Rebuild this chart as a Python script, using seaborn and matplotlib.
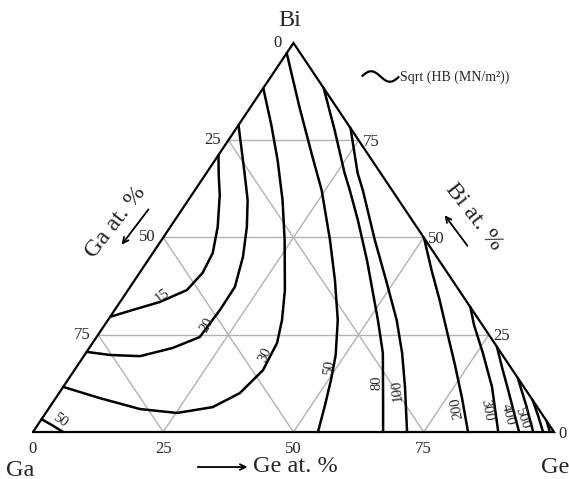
import numpy as np
import pandas as pd
import seaborn as sns
import matplotlib.pyplot as plt
from matplotlib.lines import Line2D
from matplotlib.path import Path

# contour lines of sqrt(HB) as (Ge at.%, Bi at.%)
ge_15 = [0, 2.6, 5.4, 9.1, 11.5, 12.1, 11.3, 7.6, 3.5, 0]
bi_15 = [71.2, 66.1, 60.9, 52.7, 46.0, 40.9, 36.5, 33.4, 31.4, 29.6]
ge_20 = [0, 7.6, 11.4, 14.7, 17.8, 20.1, 20.2, 19.8, 16.0, 10.8, 4.9, 0]
bi_20 = [78.9, 66.1, 59.6, 52.7, 45.0, 37.3, 31.4, 24.4, 21.6, 19.5, 19.8, 20.6]
ge_30 = [0, 6.3, 12.0, 18.1, 23.6, 30.1, 33.4, 35.4, 36.2, 34.7, 31.3, 25.2, 17.6, 8.5, 0]
bi_30 = [88.4, 78.9, 69.9, 59.6, 49.4, 36.5, 28.8, 22.9, 15.9, 10.0, 6.4, 4.9, 5.9, 8.7, 11.6]
ge_50a = [0, 2.7, 5.8]
bi_50a = [3.3, 1.8, 0]
ge_50 = [0, 9.4, 18.3, 24.3, 32.3, 38.4, 44.1, 48.2, 50.5, 52.6, 54.7]
bi_50 = [97.4, 83.5, 70.7, 62.2, 49.4, 39.1, 28.8, 19.8, 13.4, 6.9, 0]
ge_80 = [11.6, 19.1, 26.5, 29.7, 35.1, 42.0, 51.8, 57.0, 63.1, 67.2]
bi_80 = [88.4, 77.6, 66.6, 62.2, 54.5, 44.2, 28.8, 20.3, 8.2, 0]
ge_100 = [21.9, 29.0, 32.2, 40.9, 48.2, 55.4, 60.7, 65.6, 71.8]
bi_100 = [78.1, 66.6, 62.2, 49.4, 39.1, 28.8, 20.3, 11.6, 0]
ge_200 = [50.1, 55.7, 61.1, 66.3, 72.4, 78.0, 83.5]
bi_200 = [49.9, 41.6, 33.9, 26.2, 17.2, 8.7, 0]
ge_300 = [67.9, 70.9, 76.2, 82.3, 89.3]
bi_300 = [32.1, 27.5, 20.3, 11.6, 0]
ge_400 = [78.1, 81.8, 85.8, 93.3]
bi_400 = [21.9, 16.5, 10.8, 0]
ge_500 = [86.1, 91.2, 96.0]
bi_500 = [13.9, 6.9, 0]
ge_600 = [91.8, 94.7, 97.9]
bi_600 = [8.2, 4.4, 0]
ge_700 = [97.2, 99.2]
bi_700 = [2.8, 0]

# labels written next to the curves
label_text = ['15', '20', '30', '50', '50', '80', '100', '200', '300', '400', '500']
label_ge = [7.4, 19.6, 34.6, 3.6, 48.6, 59.7, 64.6, 78.3, 84.3, 89.0, 92.1]
label_bi = [35.0, 27.5, 19.8, 3.1, 16.7, 12.6, 10.8, 6.2, 5.7, 4.4, 3.6]
label_rot = [38, 60, 65, -35, 85, 90, 95, 100, -80, -75, -70]

grid_ticks = [25, 50, 75]
axis_ticks = [0, 25, 50, 75]


def tern(ge, bi):
    # ternary composition -> plane coords (Ga at origin, Ge at x=100, Bi on top)
    ge = np.asarray(ge, dtype=float)
    bi = np.asarray(bi, dtype=float)
    return ge + bi / 2, bi


curves = {'15': (ge_15, bi_15), '20': (ge_20, bi_20), '30': (ge_30, bi_30),
          '50a': (ge_50a, bi_50a), '50': (ge_50, bi_50), '80': (ge_80, bi_80),
          '100': (ge_100, bi_100), '200': (ge_200, bi_200), '300': (ge_300, bi_300),
          '400': (ge_400, bi_400), '500': (ge_500, bi_500), '600': (ge_600, bi_600),
          '700': (ge_700, bi_700)}
rows = []
for name, (ge, bi) in curves.items():
    x, y = tern(ge, bi)
    for i in range(len(x)):
        rows.append({'curve': name, 'order': i, 'x': x[i], 'y': y[i]})
df = pd.DataFrame(rows)

sns.set_style('white')
plt.rcParams['font.family'] = ['Liberation Serif', 'DejaVu Serif']

fig = plt.figure(figsize=(5.69, 4.79), dpi=100)
ax = fig.add_axes([0, 0, 1, 1])
ax.set_xlim(-6.33, 102.88)
ax.set_ylim(-12.08, 111.05)
ax.axis('off')

# gray 25 % grid
gcol = '#aab4bb'
for t in grid_ticks:
    x, y = tern([0, 100 - t], [t, t])
    ax.plot(x, y, color=gcol, lw=1, zorder=1)
    x, y = tern([t, t], [0, 100 - t])
    ax.plot(x, y, color=gcol, lw=1, zorder=1)
    x, y = tern([100 - t, 0], [0, 100 - t])
    ax.plot(x, y, color=gcol, lw=1, zorder=1)

# triangle outline
x, y = tern([0, 100, 0, 0], [0, 0, 100, 0])
ax.plot(x, y, color='black', lw=1.6, zorder=3, solid_joinstyle='miter')

sns.lineplot(data=df, x='x', y='y', units='curve', estimator=None, sort=False,
             color='black', lw=1.8, ax=ax, zorder=2, solid_joinstyle='round')
ax.set_xlabel('')
ax.set_ylabel('')

for txt, g, b, r in zip(label_text, label_ge, label_bi, label_rot):
    x, y = tern(g, b)
    ax.text(x, y, txt, fontsize=10.5, rotation=r, rotation_mode='anchor',
            ha='center', va='center', zorder=4)

# tick numbers on the three edges
for t in axis_ticks:
    # left edge: Ga at. %
    x, y = tern(-3.0, 100 - t)
    ax.text(x, y, str(t), fontsize=12, ha='center', va='center')
    # right edge: Bi at. %
    x, y = tern(100 - t + 1.0, t - 0.4)
    ax.text(x, y, str(t), fontsize=12, ha='left', va='center')
    # bottom: Ge at. %
    ax.text(t, -4.3, str(t), fontsize=12, ha='center', va='center')

# corner names
ax.text(49.3, 105.9, 'Bi', fontsize=17.5, ha='center', va='center')
ax.text(-2.5, -9.8, 'Ga', fontsize=17.5, ha='center', va='center')
ax.text(100.2, -9.0, 'Ge', fontsize=17.5, ha='center', va='center')

# axis titles with arrows
ax.text(42.2, -8.8, 'Ge at. %', fontsize=17.5, ha='left', va='center')
ax.annotate('', xy=(41.7, -9.0), xytext=(31.1, -9.0),
            arrowprops=dict(arrowstyle='->', lw=1.3, color='black'))
ax.text(15.9, 54.0, 'Ga at. %', fontsize=17.5, rotation=52, rotation_mode='anchor',
        ha='center', va='center')
ax.annotate('', xy=(16.7, 47.6), xytext=(22.5, 57.8),
            arrowprops=dict(arrowstyle='->', lw=1.3, color='black'))
ax.text(84.5, 55.3, 'Bi at. %', fontsize=17.5, rotation=-52, rotation_mode='anchor',
        ha='center', va='center')
ax.annotate('', xy=(78.7, 56.3), xytext=(83.7, 47.3),
            arrowprops=dict(arrowstyle='->', lw=1.3, color='black'))

# wavy legend glyph
tt = np.linspace(-np.pi, np.pi, 40)
wave = Path(np.column_stack([tt / np.pi, -0.28 * np.sin(tt)]))
tilde = Line2D([], [], ls='none', marker=wave, markersize=27, mew=1.6,
               markerfacecolor='none', markeredgecolor='black')
fig.legend(handles=[tilde], labels=['Sqrt (HB (MN/m²))'], loc='center left',
           bbox_to_anchor=(365 / 569, 1 - 77 / 479), frameon=False, fontsize=10,
           handlelength=2.2, handletextpad=0.3, borderpad=0, borderaxespad=0)

fig.savefig('out.png', dpi=100)
